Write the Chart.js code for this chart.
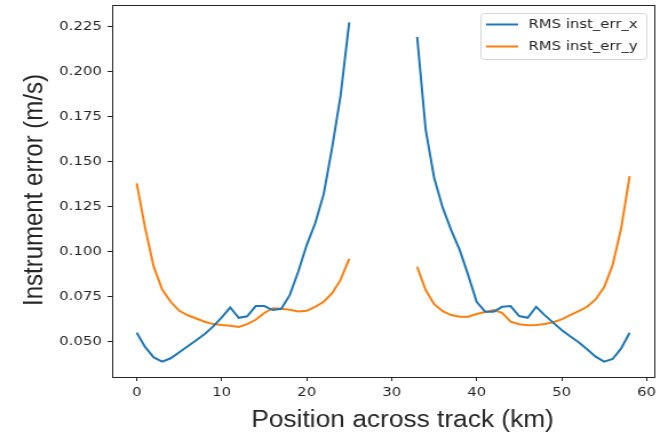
<!DOCTYPE html>
<html>
<head>
<meta charset="utf-8">
<script src="https://cdn.jsdelivr.net/npm/chart.js@4/dist/chart.umd.min.js"></script>
<style>
  html, body { margin: 0; padding: 0; background: #fff; overflow: hidden; }
  /* figure is drawn at 4:3-ish width and stretched out to the page width */
  #wrap { width: 584px; height: 438px; transform: scaleX(1.1438); transform-origin: 0 0; }
</style>
</head>
<body>
<div id="wrap"><canvas id="grafico" width="584" height="438"></canvas></div>
<script>
// posição ao longo da faixa (km) - a faixa 26..32 não tem dados
const positionKm = [
  0, 1, 2, 3, 4, 5, 6, 7, 8, 9, 10, 11, 12, 13, 14, 15, 16, 17, 18, 19, 20, 21, 22, 23, 24, 25,
  26, 27, 28, 29, 30, 31, 32,
  33, 34, 35, 36, 37, 38, 39, 40, 41, 42, 43, 44, 45, 46, 47, 48, 49, 50, 51, 52, 53, 54, 55, 56, 57, 58
];

const rmsErrX = [
  0.0550, 0.0470, 0.0413, 0.0389, 0.0408, 0.0442, 0.0475, 0.0508, 0.0543, 0.0585, 0.0635, 0.0690, 0.0633,
  0.0641, 0.0698, 0.0698, 0.0676, 0.0683, 0.0759, 0.0889, 0.1037, 0.1158, 0.1320, 0.1580, 0.1870, 0.2274,
  null, null, null, null, null, null, null,
  0.2194, 0.1680, 0.1410, 0.1245, 0.1120, 0.1010, 0.0870, 0.0722, 0.0667, 0.0667, 0.0694, 0.0698, 0.0643,
  0.0633, 0.0694, 0.0648, 0.0606, 0.0565, 0.0530, 0.0497, 0.0458, 0.0417, 0.0389, 0.0404, 0.0463, 0.0550
];

const rmsErrY = [
  0.1380, 0.1130, 0.0917, 0.0790, 0.0722, 0.0672, 0.0647, 0.0629, 0.0611, 0.0598, 0.0593, 0.0589, 0.0582,
  0.0598, 0.0622, 0.0660, 0.0686, 0.0683, 0.0678, 0.0668, 0.0672, 0.0694, 0.0722, 0.0770, 0.0845, 0.0960,
  null, null, null, null, null, null, null,
  0.0917, 0.0787, 0.0709, 0.0670, 0.0648, 0.0639, 0.0639, 0.0654, 0.0665, 0.0676, 0.0661, 0.0611, 0.0597,
  0.0591, 0.0593, 0.0598, 0.0608, 0.0624, 0.0648, 0.0670, 0.0694, 0.0735, 0.0802, 0.0926, 0.1130, 0.1420
];

const xTicks = [0, 10, 20, 30, 40, 50, 60];
const yTicks = [0.050, 0.075, 0.100, 0.125, 0.150, 0.175, 0.200, 0.225];

const seriesNames = ['RMS inst_err_x', 'RMS inst_err_y'];
const xTitle = 'Position across track (km)';
const yTitle = 'Instrument error (m/s)';

const AZUL = '#1f77b4';
const LARANJA = '#ff7f0e';
const TEXTO = '#262626';
const FONTE_TICKS = '"DejaVu Sans", sans-serif';
const FONTE_TITULO = '"Liberation Sans", Arial, sans-serif';

const pontos = (valores) => positionKm.map((x, i) => ({ x, y: valores[i] }));

// moldura, títulos dos eixos e legenda ao estilo matplotlib
const moldura = {
  id: 'moldura',
  afterDraw(chart) {
    const { ctx, chartArea: a } = chart;
    ctx.save();
    ctx.strokeStyle = '#262626';
    ctx.lineWidth = 1;
    ctx.strokeRect(Math.round(a.left) + 0.5, Math.round(a.top) + 0.5,
                   Math.round(a.right - a.left), Math.round(a.bottom - a.top));

    ctx.fillStyle = TEXTO;
    ctx.textAlign = 'center';
    ctx.textBaseline = 'middle';
    ctx.font = '23px ' + FONTE_TITULO;
    ctx.fillText(xTitle, 352, 421);
    ctx.font = '24px ' + FONTE_TITULO;
    ctx.translate(30, 190);
    ctx.rotate(-Math.PI / 2);
    ctx.fillText(yTitle, 0, 0);
    ctx.restore();

    // legenda
    ctx.save();
    const lx = 420.5, ly = 13.5, lw = 145, lh = 46;
    ctx.beginPath();
    ctx.roundRect(lx, ly, lw, lh, 3);
    ctx.fillStyle = 'rgba(255,255,255,0.8)';
    ctx.fill();
    ctx.strokeStyle = '#d5d5d5';
    ctx.lineWidth = 1;
    ctx.stroke();
    ctx.font = '13px ' + FONTE_TICKS;
    ctx.textAlign = 'left';
    ctx.textBaseline = 'middle';
    chart.data.datasets.forEach((ds, i) => {
      const y = 24.5 + i * 22;
      ctx.strokeStyle = ds.borderColor;
      ctx.lineWidth = 2;
      ctx.beginPath();
      ctx.moveTo(425, y);
      ctx.lineTo(453, y);
      ctx.stroke();
      ctx.fillStyle = TEXTO;
      ctx.fillText(ds.label, 462, y);
    });
    ctx.restore();
  }
};

const eixo = (ticks, min, max, fmt) => ({
  type: 'linear',
  min, max,
  afterBuildTicks: (s) => { s.ticks = ticks.map(v => ({ value: v })); },
  grid: { drawOnChartArea: false, drawTicks: true, tickLength: 4, color: '#262626', lineWidth: 1 },
  border: { display: false },
  ticks: { color: TEXTO, font: { family: FONTE_TICKS, size: 13 }, callback: fmt, autoSkip: false, maxRotation: 0 }
});

const escalaX = eixo(xTicks, -2.9, 60.9, (v) => String(v));
escalaX.ticks.padding = 4;
escalaX.afterFit = (s) => { s.height = 61; s.paddingLeft = 0; s.paddingRight = 0; };

const escalaY = eixo(yTicks, 0.0304, 0.2371, (v) => v.toFixed(3));
escalaY.ticks.padding = 5;
escalaY.afterFit = (s) => { s.width = 98; s.paddingTop = 0; s.paddingBottom = 0; };

new Chart(document.getElementById('grafico'), {
  type: 'line',
  data: {
    datasets: [
      { label: seriesNames[0], data: pontos(rmsErrX), borderColor: AZUL, borderWidth: 2, pointRadius: 0, tension: 0, spanGaps: false },
      { label: seriesNames[1], data: pontos(rmsErrY), borderColor: LARANJA, borderWidth: 2, pointRadius: 0, tension: 0, spanGaps: false }
    ]
  },
  options: {
    responsive: false,
    animation: false,
    layout: { padding: { top: 5, right: 12, left: 0, bottom: 0 } },
    plugins: { legend: { display: false }, tooltip: { enabled: false } },
    scales: { x: escalaX, y: escalaY }
  },
  plugins: [moldura]
});
</script>
</body>
</html>
